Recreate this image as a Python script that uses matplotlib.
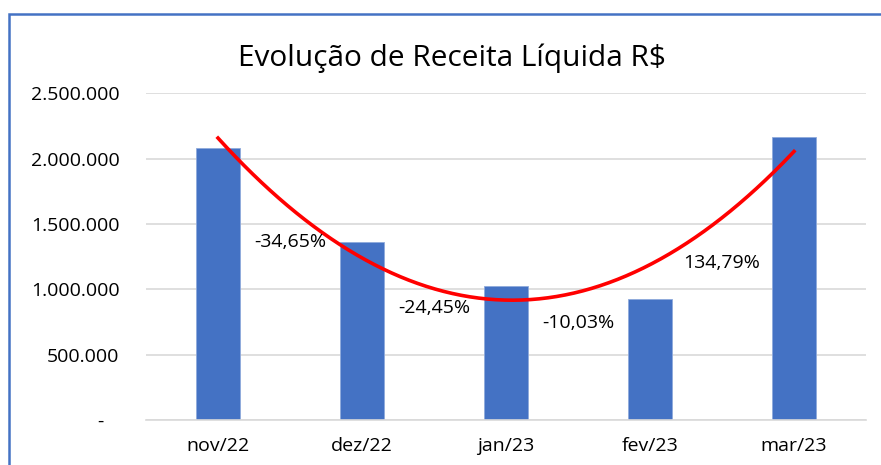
import numpy as np
import matplotlib
matplotlib.use("Agg")
import matplotlib.pyplot as plt
from matplotlib.patches import Rectangle
from matplotlib.ticker import FuncFormatter

categories = ["nov/22", "dez/22", "jan/23", "fev/23", "mar/23"]
values = [2080000, 1359000, 1027000, 924000, 2169000]
pct_labels = ["-34,65%", "-24,45%", "-10,03%", "134,79%"]
pct_y = [1365000, 860000, 745000, 1200000]
yticks = [0, 500000, 1000000, 1500000, 2000000, 2500000]

plt.rcParams['font.family'] = ['Open Sans', 'DejaVu Sans']

W, H = 881, 465
fig = plt.figure(figsize=(W / 100, H / 100), dpi=100)
fig.patch.set_facecolor("white")

# outer frame
fig.add_artist(Rectangle((9 / W, -0.1), 1.2, 1 - 14 / H + 0.1, transform=fig.transFigure,
                         fill=False, edgecolor="#4472C4", linewidth=1.8))

ax = fig.add_axes([146 / W, 1 - 420 / H, 720 / W, (420 - 93.3) / H])
x = np.arange(len(categories))
ax.bar(x, values, width=0.31, color="#4472C4", edgecolor="#8FAADC", linewidth=0.6, zorder=2)

# polynomial (order 2) trendline
coef = np.polyfit(x, values, 2)
xs = np.linspace(0, len(categories) - 1, 200)
ax.plot(xs, np.polyval(coef, xs), color="#FF0000", linewidth=2.6, zorder=3)

for i, (lab, yv) in enumerate(zip(pct_labels, pct_y)):
    ax.text(i + 0.5, yv, lab, ha="center", va="center", fontsize=14, color="#000000", zorder=4)

ax.set_xlim(-0.5, len(categories) - 0.5)
ax.set_ylim(0, 2500000)
ax.set_yticks(yticks)

def fmt(v, pos):
    if v == 0:
        return "-   "
    return f"{int(v):,}".replace(",", ".")

ax.yaxis.set_major_formatter(FuncFormatter(fmt))
ax.set_xticks(x)
ax.set_xticklabels(categories)
ax.tick_params(axis="both", length=0, labelsize=14, colors="#000000")
ax.tick_params(axis="y", pad=19)
ax.tick_params(axis="x", pad=12)
ax.grid(axis="y", color="#D9D9D9", linewidth=1.2, zorder=0)
ax.set_axisbelow(True)
for s in ["top", "right", "left"]:
    ax.spines[s].set_visible(False)
ax.spines["bottom"].set_color("#D9D9D9")
ax.spines["bottom"].set_linewidth(1.2)

fig.text(452 / W, 1 - 66 / H, "Evolução de Receita Líquida R$", ha="center", va="baseline",
         fontsize=21.5, color="#000000")

fig.savefig("out.png", dpi=100)
